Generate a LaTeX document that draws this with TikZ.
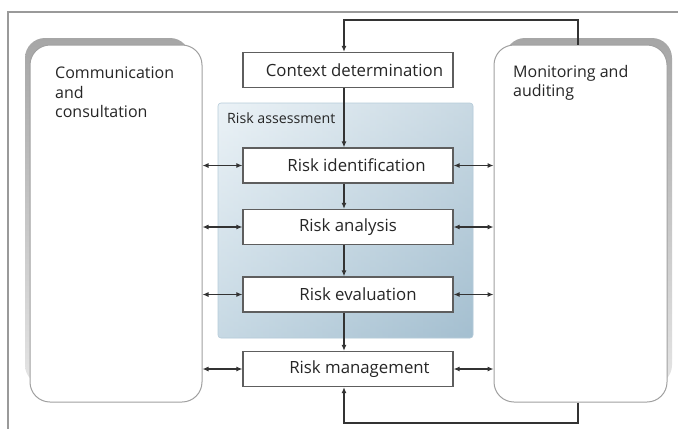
\documentclass[tikz,border=0pt]{standalone}
\usepackage{fontspec}
\setmainfont{Open Sans}
\usetikzlibrary{arrows.meta}

\definecolor{framegray}{HTML}{9A9A9A}
\definecolor{shadowgray}{HTML}{A6A6A6}
\definecolor{panelborder}{HTML}{A0A0A0}
\definecolor{boxborder}{HTML}{5E5E5E}
\definecolor{linedark}{HTML}{333333}
\definecolor{textdark}{HTML}{262626}
\definecolor{raLight}{HTML}{DEEAF1}
\definecolor{raDark}{HTML}{A4BFD0}

\begin{document}
\begin{tikzpicture}[x=1pt,y=-1pt,
  font=\fontsize{16}{19.5}\selectfont,
  text=textdark,
  panel/.style={draw=panelborder,line width=1pt,fill=white,rounded corners=20pt,
    minimum width=172pt,minimum height=357pt,inner sep=0pt},
  stepbox/.style={draw=boxborder,line width=1.2pt,fill=white,
    minimum width=210pt,minimum height=35pt,inner sep=0pt,
    font=\fontsize{16.8}{20}\selectfont},
  flow/.style={draw=linedark,line width=1.4pt,-{Latex[length=6pt,width=5pt]}},
  link/.style={draw=linedark,line width=1.1pt,
    {Latex[length=6pt,width=5pt]}-{Latex[length=6pt,width=5pt]}},
]
\useasboundingbox (0,0) rectangle (678,429);
\fill[white] (0,0) rectangle (678,429);

% outer frame
\draw[framegray,line width=1.5pt] (678,12) -- (8,12) -- (8,429);

% panel shadows, fading towards the bottom
\shade[top color=shadowgray,bottom color=shadowgray!30,rounded corners=20pt]
  (25,38) rectangle (190,385);
\shade[top color=shadowgray,bottom color=shadowgray!30,rounded corners=20pt]
  (505,38) rectangle (672,385);

% side panels
\node[panel] (lbox) at (116,223.5) {};
\node[panel,minimum width=173pt] (rbox) at (580.5,223.5) {};
\node[anchor=north west,align=left,inner sep=0pt] (ltxt) at (55,67)
  {Communication\\and\\consultation};
\node[anchor=north west,align=left,inner sep=0pt] (rtxt) at (513,65)
  {Monitoring and\\auditing};

% risk assessment area
\shade[left color=raLight,right color=raDark,rounded corners=3pt]
  (218,103) rectangle (473,338);
\shade[top color=white,bottom color=raDark,fill opacity=0.4,rounded corners=3pt]
  (218,103) rectangle (473,338);
\draw[raDark!80,line width=0.6pt,rounded corners=3pt] (218,103) rectangle (473,338);
\node[anchor=base west,inner sep=0pt,font=\fontsize{14.2}{16}\selectfont] (ratxt)
  at (227,123.5) {Risk assessment};

% process steps
\node[stepbox] (ctx) at (348,70)    {\hspace*{13pt}Context determination};
\node[stepbox] (rid) at (348,165.5) {\hspace*{17pt}Risk identification};
\node[stepbox] (ran) at (348,227)   {Risk analysis};
\node[stepbox] (rev) at (348,294.5) {\hspace*{20pt}Risk evaluation};
\node[stepbox] (rmg) at (348,369)   {\hspace*{23pt}Risk management};

% main flow
\draw[flow] ([xshift=-4pt]ctx.south) -- ([xshift=-4pt]rid.north);
\draw[flow] ([xshift=-4pt]rid.south) -- ([xshift=-4pt]ran.north);
\draw[flow] ([xshift=-4pt]ran.south) -- ([xshift=-4pt]rev.north);
\draw[flow] ([xshift=-4pt]rev.south) -- ([xshift=-4pt]rmg.north);

% feedback loops
\coordinate (tr) at (578,20);
\coordinate (tl) at (344,20);
\coordinate (br) at (578,423);
\coordinate (bl) at (344,423);
\draw[flow] (rbox.north -| tr) -- (tr) -- (tl) -- (ctx.north -| tl);
\draw[flow] (rbox.south -| br) -- (br) -- (bl) -- (rmg.south -| bl);

% communication links
\foreach \s in {rid,ran,rev,rmg}{
  \draw[link] (lbox.east |- \s.west) -- (\s.west);
  \draw[link] (\s.east) -- (rbox.west |- \s.east);
}
\end{tikzpicture}
\end{document}
